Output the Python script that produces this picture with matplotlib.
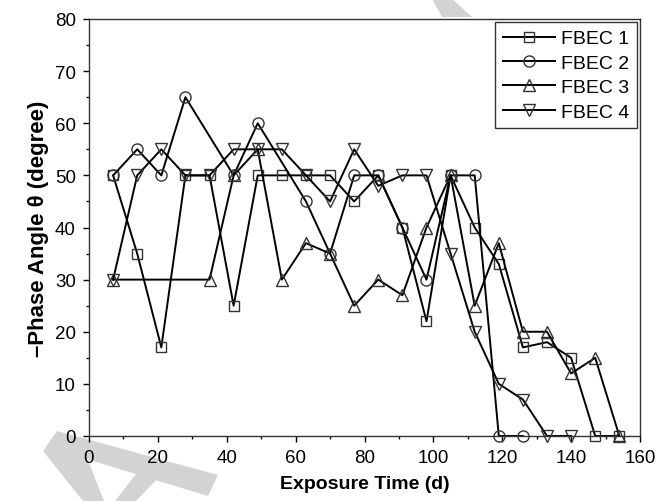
import matplotlib
matplotlib.use("Agg")
import matplotlib.pyplot as plt
from matplotlib.patches import Polygon
from matplotlib.ticker import MultipleLocator

plt.rcParams['font.family'] = ['Liberation Sans', 'DejaVu Sans']

# exposure time (d) and -phase angle (degree)
x1 = [7, 14, 21, 28, 35, 42, 49, 56, 63, 70, 77, 84, 91, 98, 105, 112, 119, 126, 133, 140, 147, 154]
y1 = [50, 35, 17, 50, 50, 25, 50, 50, 50, 50, 45, 50, 40, 22, 50, 40, 33, 17, 18, 15, 0, 0]

x2 = [7, 14, 21, 28, 42, 49, 63, 70, 77, 84, 91, 98, 105, 112, 119, 126]
y2 = [50, 55, 50, 65, 50, 60, 45, 35, 50, 50, 40, 30, 50, 50, 0, 0]

x3 = [7, 35, 42, 49, 56, 63, 70, 77, 84, 91, 98, 105, 112, 119, 126, 133, 140, 147, 154]
y3 = [30, 30, 50, 55, 30, 37, 35, 25, 30, 27, 40, 50, 25, 37, 20, 20, 12, 15, 0]

x4 = [7, 14, 21, 28, 35, 42, 49, 56, 63, 70, 77, 84, 91, 98, 105, 112, 119, 126, 133, 140]
y4 = [30, 50, 55, 50, 50, 55, 55, 55, 50, 45, 55, 48, 50, 50, 35, 20, 10, 7, 0, 0]

labels = ['FBEC 1', 'FBEC 2', 'FBEC 3', 'FBEC 4']
markers = ['s', 'o', '^', 'v']
msizes = [7.2, 8.0, 8.4, 8.4]

W, H = 658, 502
fig = plt.figure(figsize=(W / 100, H / 100), dpi=100)

# faint grey watermark strokes in the margins, kept behind the axes
def px(pts):
    return [(x / W, 1 - y / H) for x, y in pts]

wm = '#d3d3d3'
for pts in [
    [(43, 452), (57, 432), (82, 446), (104, 502), (83, 502)],
    [(57, 432), (218, 476), (208, 497), (70, 455)],
    [(115, 502), (140, 470), (160, 477), (136, 502)],
    [(432, 0), (452, 0), (472, 18), (442, 18)],
]:
    fig.patches.append(Polygon(px(pts), closed=True, transform=fig.transFigure,
                               facecolor=wm, edgecolor='none', zorder=-5))

ax = fig.add_axes([89 / W, 1 - 437 / H, (640 - 89) / W, (437 - 20) / H])
ax.set_zorder(1)
ax.set_facecolor('white')

for xs, ys, lab, m, ms in zip([x1, x2, x3, x4], [y1, y2, y3, y4], labels, markers, msizes):
    ax.plot(xs, ys, color='black', linewidth=1.4, marker=m, markersize=ms,
            markerfacecolor='none', markeredgecolor='#333333', markeredgewidth=1.0,
            label=lab, clip_on=False)

ax.set_xlim(0, 160)
ax.set_ylim(0, 80)
ax.xaxis.set_major_locator(MultipleLocator(20))
ax.xaxis.set_minor_locator(MultipleLocator(10))
ax.yaxis.set_major_locator(MultipleLocator(10))
ax.yaxis.set_minor_locator(MultipleLocator(5))
ax.tick_params(which='major', direction='out', length=4.5, width=1, labelsize=13.5, pad=5)
ax.tick_params(which='minor', direction='out', length=2.5, width=1)
for s in ax.spines.values():
    s.set_linewidth(1.0)
    s.set_color('#333333')

ax.set_xlabel('Exposure Time (d)', fontsize=14, fontweight='bold', labelpad=6)
ax.set_ylabel('\u2013Phase Angle \u03b8 (degree)', fontsize=16, fontweight='bold', labelpad=4)

leg = ax.legend(loc='upper right', bbox_to_anchor=(1.0, 1.0), borderaxespad=0.15,
                fontsize=14, handlelength=2.7, handletextpad=0.3, labelspacing=0.35,
                borderpad=0.4, frameon=True, fancybox=False, framealpha=1)
leg.get_frame().set_edgecolor('#333333')
leg.get_frame().set_linewidth(1.0)

fig.savefig('out.png', dpi=100)
